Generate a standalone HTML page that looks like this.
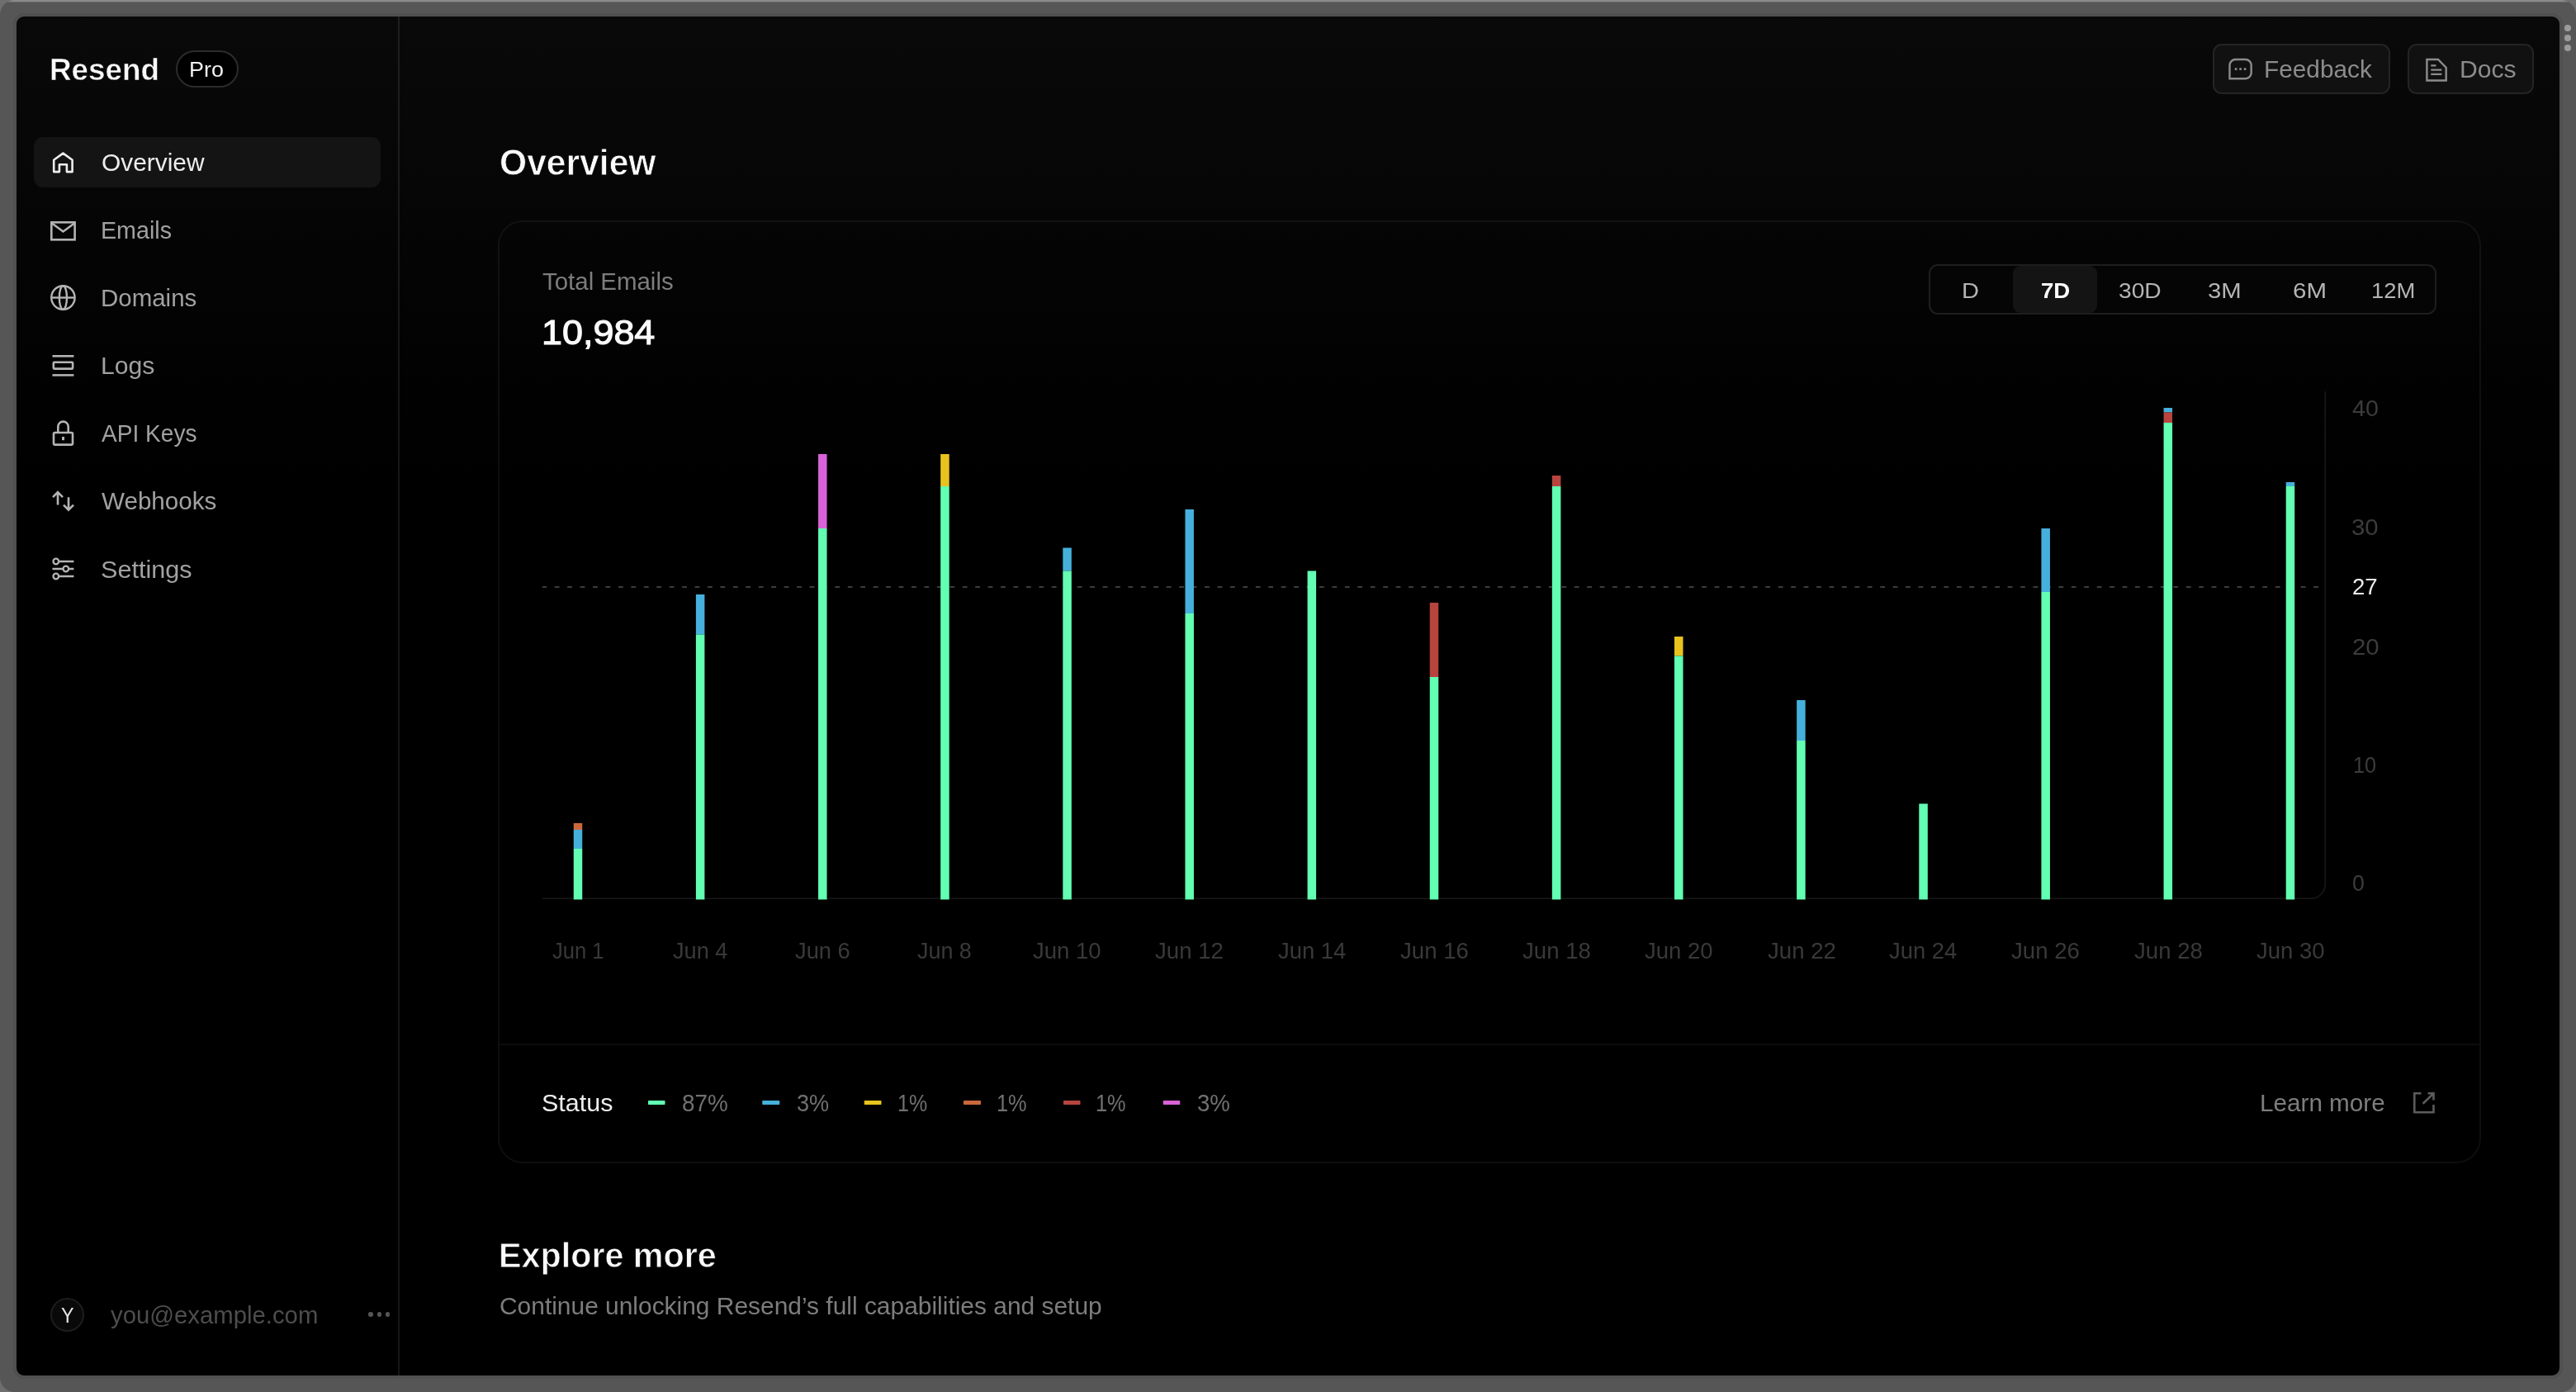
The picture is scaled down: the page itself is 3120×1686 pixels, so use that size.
<!DOCTYPE html>
<html>
<head>
<meta charset="utf-8">
<title>Resend</title>
<style>
*{box-sizing:border-box;margin:0;padding:0}
html,body{width:3120px;height:1686px;overflow:hidden;background:#6e6e6e;font-family:"Liberation Sans",sans-serif}
#frame{position:absolute;left:0;top:0;width:3120px;height:1686px;background:#565656;border-radius:18px;overflow:hidden}
#frame:before{content:"";position:absolute;left:0;top:0;right:0;height:3px;background:linear-gradient(#8c8c8c,#8a8a8a 50%,#565656)}
#win{position:absolute;left:20px;top:20px;width:3080px;height:1646px;border-radius:9px;overflow:hidden;box-shadow:0 0 0 4px #505050;background:linear-gradient(#090909 0,#060606 200px,#020202 420px,#000 560px)}
#abs{position:absolute;left:0;top:0;width:3120px;height:1686px;will-change:transform}
.t{position:absolute;white-space:nowrap;line-height:1;transform-origin:0 0}
.dot{position:absolute;width:8px;height:8px;border-radius:50%;background:#9c9c9c;left:3106px}
#divider{position:absolute;left:482px;top:20px;width:2px;height:1646px;background:rgba(255,255,255,0.09)}
#navact{position:absolute;left:41px;top:166px;width:420px;height:61px;border-radius:11px;background:#141414}
#pro{position:absolute;left:213px;top:61px;width:75.5px;height:44.5px;border-radius:23px;border:2px solid #2c2c2c;background:#000}
.btn{position:absolute;top:53px;height:61px;border-radius:11px;border:2px solid #242424;background:#111111}
#card{position:absolute;left:603px;top:266.5px;width:2401.5px;height:1142px;border-radius:30px;border:2px solid rgba(255,255,255,0.055);background:transparent}
#sep{position:absolute;left:605px;top:1264px;width:2398px;height:2px;background:rgba(255,255,255,0.052)}
#seg{position:absolute;left:2335.5px;top:320px;width:615px;height:60.5px;border-radius:11px;border:2px solid #1e1e1e;background:#050505}
#segact{position:absolute;left:2438px;top:321.5px;width:102px;height:57.5px;border-radius:9px;background:#141414}
#avg{position:absolute;left:657px;top:709.5px;width:2159px;height:2.5px;background-image:linear-gradient(90deg,#3c3c3c 0,#3c3c3c 5.6px,transparent 5.6px,transparent 15.44px);background-size:15.44px 100%;background-repeat:repeat-x;background-position:-0.7px 0}
.dash{position:absolute;top:1333px;height:5px;border-radius:1px}
#avatar{position:absolute;left:61px;top:1572px;width:41px;height:41px;border-radius:50%;border:2px solid #1d1d1d;background:#090909}
.md{position:absolute;top:1589.3px;width:5.6px;height:5.6px;border-radius:50%;background:#555}
svg{position:absolute;overflow:visible}
</style>
</head>
<body>
<div id="frame"></div>
<div id="win"></div>
<div id="abs">
<div class="dot" style="top:30px"></div><div class="dot" style="top:42px"></div><div class="dot" style="top:54px"></div>
<div id="divider"></div>
<div id="navact"></div>
<div id="pro"></div>
<div class="btn" style="left:2679.5px;width:215px"></div>
<div class="btn" style="left:2915.5px;width:153.5px"></div>
<div id="card"></div>
<div id="sep"></div>
<div id="seg"></div>
<div id="segact"></div>
<svg width="3120" height="1686" viewBox="0 0 3120 1686" style="left:0;top:0" fill="none"><path d="M657 1088.2 H2799.2 A17 17 0 0 0 2816.2 1071.2 V474" stroke="#181818" stroke-width="1.6"/></svg>
<div id="avg"></div>
<svg id="bars" width="3120" height="1686" viewBox="0 0 3120 1686" style="left:0;top:0">
<defs><pattern id="dots" width="2" height="2" patternUnits="userSpaceOnUse"><rect width="2" height="2" fill="#c04444"/><rect x="0.5" y="0.5" width="1" height="1" fill="#ecd41a"/></pattern></defs>
<rect x="694.75" y="997" width="10.5" height="8" fill="url(#dots)"/>
<rect x="694.75" y="1005" width="10.5" height="23" fill="#46b0dc"/>
<rect x="694.75" y="1028" width="10.5" height="61.5" fill="#62ffb3"/>
<rect x="842.89" y="720" width="10.5" height="48.5" fill="#46b0dc"/>
<rect x="842.89" y="768.5" width="10.5" height="321.0" fill="#62ffb3"/>
<rect x="991.03" y="550" width="10.5" height="90" fill="#d862d8"/>
<rect x="991.03" y="640" width="10.5" height="449.5" fill="#62ffb3"/>
<rect x="1139.17" y="550" width="10.5" height="39" fill="#e8c31c"/>
<rect x="1139.17" y="589" width="10.5" height="500.5" fill="#62ffb3"/>
<rect x="1287.31" y="663.5" width="10.5" height="28.0" fill="#46b0dc"/>
<rect x="1287.31" y="691.5" width="10.5" height="398.0" fill="#62ffb3"/>
<rect x="1435.45" y="617" width="10.5" height="126" fill="#46b0dc"/>
<rect x="1435.45" y="743" width="10.5" height="346.5" fill="#62ffb3"/>
<rect x="1583.59" y="691.5" width="10.5" height="398.0" fill="#62ffb3"/>
<rect x="1731.73" y="730" width="10.5" height="90" fill="#b8443e"/>
<rect x="1731.73" y="820" width="10.5" height="269.5" fill="#62ffb3"/>
<rect x="1879.87" y="576" width="10.5" height="13" fill="#b8443e"/>
<rect x="1879.87" y="589" width="10.5" height="500.5" fill="#62ffb3"/>
<rect x="2028.01" y="771" width="10.5" height="23.5" fill="#e8c31c"/>
<rect x="2028.01" y="794.5" width="10.5" height="295.0" fill="#62ffb3"/>
<rect x="2176.15" y="848" width="10.5" height="49" fill="#46b0dc"/>
<rect x="2176.15" y="897" width="10.5" height="192.5" fill="#62ffb3"/>
<rect x="2324.29" y="973.5" width="10.5" height="116.0" fill="#62ffb3"/>
<rect x="2472.43" y="640" width="10.5" height="77" fill="#46b0dc"/>
<rect x="2472.43" y="717" width="10.5" height="372.5" fill="#62ffb3"/>
<rect x="2620.57" y="494" width="10.5" height="5.5" fill="#46b0dc"/>
<rect x="2620.57" y="499.5" width="10.5" height="12.5" fill="#b8443e"/>
<rect x="2620.57" y="512" width="10.5" height="577.5" fill="#62ffb3"/>
<rect x="2768.71" y="584" width="10.5" height="5" fill="#46b0dc"/>
<rect x="2768.71" y="589" width="10.5" height="500.5" fill="#62ffb3"/>
<rect x="785" y="1333" width="20.5" height="5" rx="0.8" fill="#62ffb3" shape-rendering="auto"/>
<rect x="923.25" y="1333" width="21.0" height="5" rx="0.8" fill="#46b0dc" shape-rendering="auto"/>
<rect x="1046.75" y="1333" width="20.75" height="5" rx="0.8" fill="#e8c31c" shape-rendering="auto"/>
<rect x="1167" y="1333" width="21" height="5" rx="0.8" fill="url(#dots)" shape-rendering="auto"/>
<rect x="1288" y="1333" width="20.5" height="5" rx="0.8" fill="#b8443e" shape-rendering="auto"/>
<rect x="1408.75" y="1333" width="20.5" height="5" rx="0.8" fill="#d862d8" shape-rendering="auto"/>
</svg>
<div id="avatar"></div>
<div class="md" style="left:446.3px"></div><div class="md" style="left:456.6px"></div><div class="md" style="left:466.9px"></div>

<!-- ICONS -->
<svg id="icons" width="3120" height="1686" viewBox="0 0 3120 1686" style="left:0;top:0" fill="none" stroke-width="2.6" stroke-linecap="butt" stroke-linejoin="miter">
<!-- home -->
<path d="M65.2 208.1 V193.8 L76.4 185.6 L87.6 193.8 V208.1 H80.9 V199.3 H71.9 V208.1 Z" stroke="#ededed" stroke-linejoin="round"/>
<!-- mail -->
<g stroke="#b4b4b4">
<rect x="62.3" y="269.3" width="28.3" height="21"/>
<path d="M63 270.5 L76.5 280.5 L90 270.5"/>
</g>
<!-- globe -->
<g stroke="#b4b4b4" stroke-width="2.4">
<circle cx="76.4" cy="360.5" r="14.2"/>
<ellipse cx="76.4" cy="360.5" rx="4.6" ry="14.2"/>
<path d="M62.2 360.5 H90.6"/>
</g>
<!-- logs -->
<g stroke="#b4b4b4">
<path d="M63.5 431.3 H89.4"/>
<rect x="64.8" y="438.8" width="23.3" height="7.8" rx="1"/>
<path d="M63.5 454.4 H89.4"/>
</g>
<!-- lock -->
<g stroke="#b4b4b4">
<rect x="65" y="524" width="23" height="14.6" rx="1.5"/>
<path d="M70.3 524 V516.8 a6.2 6.2 0 0 1 12.4 0 V524"/>
<path d="M76.5 529 V533.2" stroke-width="3"/>
</g>
<!-- webhooks arrows -->
<g stroke="#b4b4b4">
<path d="M70 611.6 V596.2 M64 602.2 L70 596.2 L76 602.2"/>
<path d="M83 602.2 V617.6 M77 611.6 L83 617.6 L89 611.6"/>
</g>
<!-- settings -->
<g stroke="#b4b4b4" stroke-width="2.3">
<path d="M71.2 680 H89.4 M63.5 689 H76 M83.5 689 H89.4 M71.2 698 H89.4"/>
<circle cx="67.8" cy="680" r="3.3"/>
<circle cx="79.8" cy="689" r="3.3"/>
<circle cx="67.8" cy="698" r="3.3"/>
</g>
<!-- feedback bubble -->
<g stroke="#8c8c8c" stroke-width="2.4">
<path d="M2700.5 95.2 V79 a7 7 0 0 1 7 -7 H2719.7 a7 7 0 0 1 7 7 V88.2 a7 7 0 0 1 -7 7 Z"/>
<path d="M2706.8 83.6 H2709.4 M2712.3 83.6 H2714.9 M2717.8 83.6 H2720.4" stroke-width="2.6"/>
</g>
<!-- docs -->
<g stroke="#8c8c8c" stroke-width="2.4">
<path d="M2939.4 72 H2953 L2962.7 82 V97.5 H2939.4 Z"/>
<path d="M2944.3 79.3 H2950.5 M2944.3 84.6 H2957.3 M2944.3 89.9 H2957.3" stroke-width="2.2"/>
</g>
<!-- external link -->
<g stroke="#5c5c5c" stroke-width="2.6">
<path d="M2932.5 1324.3 H2924.3 V1347.2 H2947.5 V1338"/>
<path d="M2934.6 1336.8 L2947.2 1324.6 M2940.6 1324.3 H2947.5 V1332.5"/>
</g>
</svg>

<div class="t " style="left:122.73px;top:182.35px;font-size:30px;transform:scaleX(0.9962);color:#ededed;font-weight:400;">Overview</div>
<div class="t " style="left:121.81px;top:263.86px;font-size:30px;transform:scaleX(0.9549);color:#a1a1a1;font-weight:400;">Emails</div>
<div class="t " style="left:122.37px;top:345.71px;font-size:30px;transform:scaleX(0.9822);color:#a1a1a1;font-weight:400;">Domains</div>
<div class="t " style="left:122.23px;top:427.86px;font-size:30px;transform:scaleX(1.0044);color:#a1a1a1;font-weight:400;">Logs</div>
<div class="t " style="left:123.07px;top:510.11px;font-size:30px;transform:scaleX(0.9360);color:#a1a1a1;font-weight:400;">API Keys</div>
<div class="t " style="left:123.00px;top:592.36px;font-size:30px;transform:scaleX(0.9871);color:#a1a1a1;font-weight:400;">Webhooks</div>
<div class="t " style="left:122.46px;top:674.50px;font-size:30px;transform:scaleX(1.0205);color:#a1a1a1;font-weight:400;">Settings</div>
<div class="t " style="left:2375.52px;top:338.82px;font-size:26.5px;transform:scaleX(1.0943);color:#b4b4b4;font-weight:400;">D</div>
<div class="t " style="left:2471.54px;top:338.82px;font-size:26.5px;transform:scaleX(1.0423);color:#ffffff;font-weight:700;">7D</div>
<div class="t " style="left:2565.93px;top:338.82px;font-size:26.5px;transform:scaleX(1.0644);color:#b4b4b4;font-weight:400;">30D</div>
<div class="t " style="left:2673.84px;top:338.82px;font-size:26.5px;transform:scaleX(1.1068);color:#b4b4b4;font-weight:400;">3M</div>
<div class="t " style="left:2777.08px;top:338.82px;font-size:26.5px;transform:scaleX(1.1123);color:#b4b4b4;font-weight:400;">6M</div>
<div class="t " style="left:2872.25px;top:338.82px;font-size:26.5px;transform:scaleX(1.0349);color:#b4b4b4;font-weight:400;">12M</div>
<div class="t " style="left:669.10px;top:1138.89px;font-size:27px;transform:scaleX(0.9453);color:#393939;font-weight:400;">Jun 1</div>
<div class="t " style="left:815.32px;top:1138.89px;font-size:27px;transform:scaleX(1.0057);color:#393939;font-weight:400;">Jun 4</div>
<div class="t " style="left:963.11px;top:1138.89px;font-size:27px;transform:scaleX(1.0106);color:#393939;font-weight:400;">Jun 6</div>
<div class="t " style="left:1111.41px;top:1138.89px;font-size:27px;transform:scaleX(0.9966);color:#393939;font-weight:400;">Jun 8</div>
<div class="t " style="left:1251.46px;top:1138.89px;font-size:27px;transform:scaleX(1.0193);color:#393939;font-weight:400;">Jun 10</div>
<div class="t " style="left:1399.23px;top:1138.89px;font-size:27px;transform:scaleX(1.0228);color:#393939;font-weight:400;">Jun 12</div>
<div class="t " style="left:1547.86px;top:1138.89px;font-size:27px;transform:scaleX(1.0152);color:#393939;font-weight:400;">Jun 14</div>
<div class="t " style="left:1695.62px;top:1138.89px;font-size:27px;transform:scaleX(1.0234);color:#393939;font-weight:400;">Jun 16</div>
<div class="t " style="left:1844.21px;top:1138.89px;font-size:27px;transform:scaleX(1.0229);color:#393939;font-weight:400;">Jun 18</div>
<div class="t " style="left:1992.00px;top:1138.89px;font-size:27px;transform:scaleX(1.0193);color:#393939;font-weight:400;">Jun 20</div>
<div class="t " style="left:2140.57px;top:1138.89px;font-size:27px;transform:scaleX(1.0228);color:#393939;font-weight:400;">Jun 22</div>
<div class="t " style="left:2288.40px;top:1138.89px;font-size:27px;transform:scaleX(1.0152);color:#393939;font-weight:400;">Jun 24</div>
<div class="t " style="left:2436.16px;top:1138.89px;font-size:27px;transform:scaleX(1.0234);color:#393939;font-weight:400;">Jun 26</div>
<div class="t " style="left:2584.75px;top:1138.89px;font-size:27px;transform:scaleX(1.0229);color:#393939;font-weight:400;">Jun 28</div>
<div class="t " style="left:2732.54px;top:1138.89px;font-size:27px;transform:scaleX(1.0193);color:#393939;font-weight:400;">Jun 30</div>
<div class="t " style="left:2848.75px;top:482.04px;font-size:27px;transform:scaleX(1.0622);color:#3c3c3c;font-weight:400;">40</div>
<div class="t " style="left:2848.45px;top:625.54px;font-size:27px;transform:scaleX(1.0874);color:#3c3c3c;font-weight:400;">30</div>
<div class="t " style="left:2848.50px;top:697.54px;font-size:27px;transform:scaleX(1.0204);color:#ededed;font-weight:400;">27</div>
<div class="t " style="left:2848.87px;top:770.54px;font-size:27px;transform:scaleX(1.0896);color:#3c3c3c;font-weight:400;">20</div>
<div class="t " style="left:2849.90px;top:913.54px;font-size:27px;transform:scaleX(0.9315);color:#3c3c3c;font-weight:400;">10</div>
<div class="t " style="left:2848.99px;top:1056.84px;font-size:27px;transform:scaleX(0.9894);color:#3c3c3c;font-weight:400;">0</div>
<div class="t " style="left:656.09px;top:1320.61px;font-size:30px;transform:scaleX(1.0160);color:#ededed;font-weight:400;">Status</div>
<div class="t " style="left:825.71px;top:1320.61px;font-size:30px;transform:scaleX(0.9281);color:#707070;font-weight:400;">87%</div>
<div class="t " style="left:964.88px;top:1320.61px;font-size:30px;transform:scaleX(0.9036);color:#707070;font-weight:400;">3%</div>
<div class="t " style="left:1086.65px;top:1320.61px;font-size:30px;transform:scaleX(0.8329);color:#707070;font-weight:400;">1%</div>
<div class="t " style="left:1206.65px;top:1320.61px;font-size:30px;transform:scaleX(0.8446);color:#707070;font-weight:400;">1%</div>
<div class="t " style="left:1327.40px;top:1320.61px;font-size:30px;transform:scaleX(0.8446);color:#707070;font-weight:400;">1%</div>
<div class="t " style="left:1449.81px;top:1320.61px;font-size:30px;transform:scaleX(0.9189);color:#707070;font-weight:400;">3%</div>
<div class="t " style="left:59.64px;top:65.68px;font-size:37px;transform:scaleX(0.9948);color:#fafafa;font-weight:700;-webkit-text-stroke:0.5px #080808;">Resend</div>
<div class="t " style="left:228.99px;top:71.84px;font-size:25px;transform:scaleX(1.0762);color:#f0f0f0;font-weight:400;">Pro</div>
<div class="t " style="left:604.85px;top:175.58px;font-size:43.5px;transform:scaleX(0.9794);color:#fafafa;font-weight:700;-webkit-text-stroke:0.8px #070707;">Overview</div>
<div class="t " style="left:656.54px;top:325.71px;font-size:30px;transform:scaleX(0.9810);color:#7d7d7d;font-weight:400;">Total Emails</div>
<div class="t " style="left:655.59px;top:381.69px;font-size:42.3px;transform:scaleX(1.0614);color:#fafafa;font-weight:400;-webkit-text-stroke:1.1px #fafafa;">10,984</div>
<div class="t " style="left:2742.33px;top:69.01px;font-size:30px;transform:scaleX(0.9931);color:#8c8c8c;font-weight:400;">Feedback</div>
<div class="t " style="left:2978.73px;top:69.01px;font-size:30px;transform:scaleX(1.0049);color:#8c8c8c;font-weight:400;">Docs</div>
<div class="t " style="left:2737.16px;top:1320.70px;font-size:30px;transform:scaleX(0.9889);color:#7d7d7d;font-weight:400;">Learn more</div>
<div class="t " style="left:603.51px;top:1500.15px;font-size:42px;transform:scaleX(0.9828);color:#fafafa;font-weight:700;-webkit-text-stroke:0.8px #000;">Explore more</div>
<div class="t " style="left:604.59px;top:1567.95px;font-size:29px;transform:scaleX(1.0318);color:#7d7d7d;font-weight:400;">Continue unlocking Resend’s full capabilities and setup</div>
<div class="t " style="left:73.66px;top:1581.34px;font-size:25px;transform:scaleX(0.9331);color:#e4e4e4;font-weight:400;">Y</div>
<div class="t " style="left:133.93px;top:1577.61px;font-size:30px;transform:scaleX(0.9770);color:#4d4d4d;font-weight:400;">you@example.com</div>
</div>
</body>
</html>
